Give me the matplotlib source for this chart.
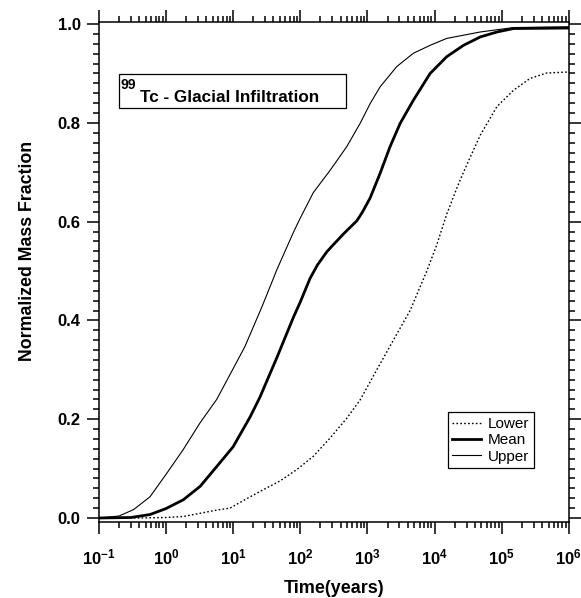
import matplotlib
matplotlib.use("Agg")
import matplotlib.pyplot as plt
from matplotlib.patches import Rectangle
from matplotlib.ticker import LogLocator, MultipleLocator, NullFormatter, FixedLocator

plt.rcParams['font.family'] = ['Liberation Sans', 'DejaVu Sans']
plt.rcParams['mathtext.fontset'] = 'custom'
plt.rcParams['mathtext.rm'] = 'Liberation Sans:bold'
plt.rcParams['mathtext.bf'] = 'Liberation Sans:bold'
plt.rcParams['mathtext.it'] = 'Liberation Sans:bold'

# ---- data ----
upper_t = [0.1, 0.2, 0.33, 0.58, 1.0, 1.8, 3.2, 5.7, 8.5, 15, 27, 45, 79, 100, 157, 279, 494,
           780, 1100, 1550, 2740, 4850, 8600, 15200, 48000, 150000, 1e6]
upper_v = [0.0, 0.004, 0.017, 0.043, 0.088, 0.138, 0.192, 0.24, 0.284, 0.347, 0.428, 0.503,
           0.578, 0.607, 0.659, 0.704, 0.752, 0.799, 0.839, 0.873, 0.914, 0.941, 0.957,
           0.971, 0.984, 0.993, 0.9945]

mean_t = [0.1, 0.3, 0.58, 1.0, 1.82, 3.23, 5.7, 10, 18, 25, 45, 79, 100, 140, 180, 249, 330,
          440, 550, 700, 850, 1100, 1550, 2180, 3080, 4850, 8600, 15200, 27000, 48000, 85000,
          150000, 1e6]
mean_v = [0.0, 0.001, 0.007, 0.019, 0.037, 0.064, 0.104, 0.144, 0.205, 0.244, 0.325, 0.406,
          0.437, 0.485, 0.512, 0.539, 0.557, 0.575, 0.588, 0.602, 0.62, 0.648, 0.698, 0.752,
          0.799, 0.846, 0.90, 0.934, 0.957, 0.974, 0.984, 0.991, 0.992]

lower_t = [0.1, 0.4, 1.0, 1.82, 5.7, 9.0, 18, 28, 50, 89, 157, 279, 494, 780, 1380, 2440, 4330,
           7680, 10800, 15200, 21500, 27000, 33900, 48000, 85000, 150000, 265000, 470000, 1e6]
lower_v = [0.0, 0.0, 0.001, 0.003, 0.016, 0.02, 0.043, 0.057, 0.075, 0.098, 0.125, 0.162,
           0.202, 0.239, 0.3, 0.36, 0.42, 0.5, 0.553, 0.615, 0.668, 0.70, 0.73, 0.775,
           0.833, 0.866, 0.89, 0.901, 0.903]

x_tick_vals = [0.1, 1, 10, 100, 1e3, 1e4, 1e5, 1e6]
x_tick_labels = [r'$10^{-1}$', r'$10^{0}$', r'$10^{1}$', r'$10^{2}$', r'$10^{3}$',
                 r'$10^{4}$', r'$10^{5}$', r'$10^{6}$']
y_tick_vals = [0.0, 0.2, 0.4, 0.6, 0.8, 1.0]
y_tick_labels = ['0.0', '0.2', '0.4', '0.6', '0.8', '1.0']

fig = plt.figure(figsize=(5.81, 5.98), dpi=100)
ax = fig.add_axes([0.170, 0.1276, 0.809, 0.836])

ax.plot(lower_t, lower_v, color='black', lw=1.0, ls=(0, (1.2, 1.6)), label='Lower')
ax.plot(mean_t, mean_v, color='black', lw=2.0, label='Mean')
ax.plot(upper_t, upper_v, color='black', lw=0.8, label='Upper')

ax.set_xscale('log')
ax.set_xlim(0.1, 1e6)
ax.set_ylim(-0.0075, 1.0047)

ax.xaxis.set_major_locator(FixedLocator(x_tick_vals))
ax.set_xticklabels(x_tick_labels, fontsize=12)
ax.xaxis.set_minor_locator(LogLocator(base=10, subs=range(2, 10), numticks=20))
ax.xaxis.set_minor_formatter(NullFormatter())

ax.yaxis.set_major_locator(FixedLocator(y_tick_vals))
ax.set_yticklabels(y_tick_labels, fontsize=12, fontweight='bold')
ax.yaxis.set_minor_locator(MultipleLocator(0.02))

ax.tick_params(which='both', direction='out', top=True, right=True, width=1.1)
ax.tick_params(which='major', length=8.5)
ax.tick_params(which='minor', length=4.3)
ax.tick_params(axis='x', which='major', pad=10)
ax.tick_params(axis='y', which='major', pad=4.5)
for s in ax.spines.values():
    s.set_linewidth(1.1)

ax.set_xlabel('Time(years)', fontsize=13, fontweight='bold')
ax.xaxis.set_label_coords(0.5, -0.117)
ax.set_ylabel('Normalized Mass Fraction', fontsize=12.8, fontweight='bold')
ax.yaxis.set_label_coords(-0.134, 0.541)

# title box
ax.add_patch(Rectangle((0.043, 0.827), 0.483, 0.068, transform=ax.transAxes,
                       fill=False, edgecolor='black', lw=0.9))
ax.text(0.046, 0.865, '99', transform=ax.transAxes, fontsize=10,
        fontweight='bold', va='baseline', ha='left')
ax.text(0.088, 0.840, 'Tc - Glacial Infiltration', transform=ax.transAxes,
        fontsize=12.3, fontweight='bold', va='baseline', ha='left')

leg = ax.legend(loc='lower right', bbox_to_anchor=(0.925, 0.107), fontsize=11,
                frameon=True, fancybox=False, edgecolor='black', framealpha=1,
                handlelength=1.9, handletextpad=0.4, borderpad=0.3, labelspacing=0.15,
                borderaxespad=0)
leg.get_frame().set_linewidth(0.9)

fig.savefig('out.png', dpi=100)
